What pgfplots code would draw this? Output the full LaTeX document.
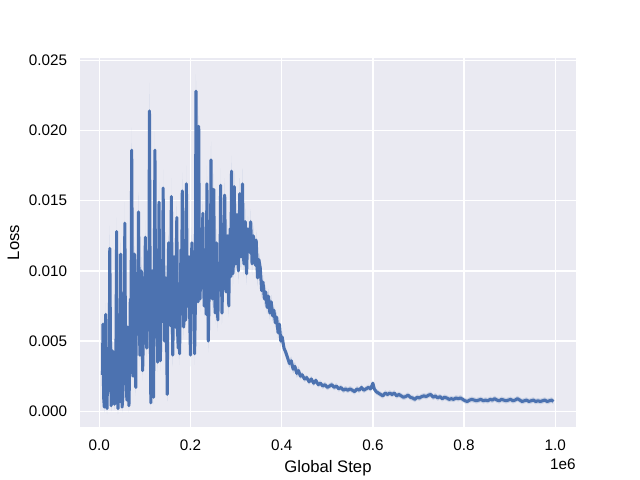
\documentclass[border=0pt]{standalone}
\usepackage{fontspec}
\setmainfont{Liberation Sans}
\usepackage{pgfplots}
\pgfplotsset{compat=1.18}
\usepackage{pgfplotstable}
\definecolor{sbblue}{RGB}{76,114,176}
\definecolor{sbbg}{RGB}{234,234,242}

% x = global step, y = loss, d = half width of the band
\pgfplotstableread{
x y d
7000 0.0026 0.0006
8000 0.0062 0.0008
9500 0.0010 0.0004
11000 0.0003 0.0004
12500 0.0045 0.0006
14000 0.0069 0.0008
15500 0.0008 0.0004
17000 0.0002 0.0004
18500 0.0038 0.0006
20000 0.0045 0.0008
21500 0.0015 0.0005
23000 0.0116 0.0016
24500 0.0050 0.0006
26000 0.0004 0.0004
27500 0.0009 0.0004
29000 0.0043 0.0007
30500 0.0032 0.0005
32000 0.0012 0.0005
33500 0.0005 0.0004
35000 0.0035 0.0006
36500 0.0041 0.0006
38000 0.0128 0.0010
39500 0.0012 0.0005
41000 0.0002 0.0004
42500 0.0048 0.0006
44000 0.0030 0.0006
45500 0.0007 0.0004
47000 0.0112 0.0010
48500 0.0036 0.0006
50000 0.0003 0.0004
51500 0.0010 0.0004
53000 0.0055 0.0008
54500 0.0025 0.0005
56000 0.0134 0.0015
57500 0.0042 0.0006
59000 0.0020 0.0006
60500 0.0008 0.0004
62000 0.0060 0.0008
63500 0.0033 0.0005
65000 0.0004 0.0005
66500 0.0030 0.0005
68000 0.0080 0.0009
69500 0.0052 0.0006
71000 0.0186 0.0016
72500 0.0091 0.0006
74000 0.0025 0.0007
75500 0.0048 0.0006
77000 0.0112 0.0012
78500 0.0067 0.0006
80000 0.0017 0.0006
81500 0.0098 0.0006
83000 0.0090 0.0010
84500 0.0055 0.0006
86000 0.0142 0.0014
87500 0.0083 0.0006
89000 0.0040 0.0008
90500 0.0061 0.0006
92000 0.0100 0.0010
93500 0.0088 0.0006
95000 0.0029 0.0007
96500 0.0050 0.0006
98000 0.0095 0.0010
99500 0.0072 0.0006
101000 0.0124 0.0012
102500 0.0066 0.0006
104000 0.0045 0.0008
105500 0.0097 0.0006
107000 0.0080 0.0009
108500 0.0058 0.0006
110000 0.0214 0.0020
111500 0.0085 0.0006
113000 0.0006 0.0005
114500 0.0049 0.0006
116000 0.0100 0.0010
117500 0.0074 0.0006
119000 0.0010 0.0005
120500 0.0092 0.0006
122000 0.0186 0.0013
123500 0.0053 0.0006
125000 0.0060 0.0008
126500 0.0089 0.0006
128000 0.0035 0.0007
129500 0.0062 0.0006
131000 0.0149 0.0014
132500 0.0078 0.0006
134000 0.0036 0.0007
135500 0.0101 0.0006
137000 0.0090 0.0010
138500 0.0064 0.0006
140000 0.0159 0.0013
141500 0.0094 0.0006
143000 0.0050 0.0008
144500 0.0071 0.0006
146000 0.0095 0.0010
147500 0.0056 0.0006
149000 0.0012 0.0005
150500 0.0087 0.0006
152000 0.0120 0.0011
153500 0.0099 0.0006
155000 0.0070 0.0008
156500 0.0061 0.0006
158000 0.0153 0.0013
159500 0.0093 0.0006
161000 0.0040 0.0008
162500 0.0068 0.0006
164000 0.0110 0.0010
165500 0.0082 0.0006
167000 0.0060 0.0008
168500 0.0104 0.0006
170000 0.0138 0.0012
171500 0.0059 0.0006
173000 0.0045 0.0008
174500 0.0090 0.0006
176000 0.0041 0.0008
177500 0.0072 0.0006
179000 0.0115 0.0010
180500 0.0086 0.0006
182000 0.0157 0.0013
183500 0.0102 0.0006
185000 0.0060 0.0008
186500 0.0076 0.0006
188000 0.0100 0.0010
189500 0.0065 0.0006
191000 0.0162 0.0013
192500 0.0095 0.0006
194000 0.0075 0.0008
195500 0.0081 0.0006
197000 0.0110 0.0010
198500 0.0063 0.0006
200000 0.0040 0.0008
201500 0.0093 0.0006
203000 0.0120 0.0011
204500 0.0084 0.0006
206000 0.0070 0.0008
207500 0.0102 0.0006
209000 0.0041 0.0008
210500 0.0072 0.0006
212000 0.0228 0.0012
213500 0.0110 0.0006
215000 0.0090 0.0009
216500 0.0078 0.0006
218000 0.0203 0.0014
219500 0.0097 0.0006
221000 0.0080 0.0009
222500 0.0106 0.0006
224000 0.0130 0.0011
225500 0.0088 0.0006
227000 0.0141 0.0012
228500 0.0099 0.0006
230000 0.0075 0.0008
231500 0.0083 0.0006
233000 0.0110 0.0010
234500 0.0069 0.0006
236000 0.0162 0.0013
237500 0.0104 0.0006
239000 0.0050 0.0008
240500 0.0078 0.0006
242000 0.0105 0.0010
243500 0.0092 0.0006
245000 0.0179 0.0013
246500 0.0111 0.0006
248000 0.0080 0.0009
249500 0.0086 0.0006
251000 0.0158 0.0012
252500 0.0097 0.0006
254000 0.0070 0.0008
255500 0.0093 0.0006
257000 0.0120 0.0010
258500 0.0079 0.0006
260000 0.0065 0.0008
261500 0.0104 0.0006
263000 0.0090 0.0009
264500 0.0087 0.0006
266000 0.0161 0.0012
267500 0.0112 0.0006
269000 0.0070 0.0008
270500 0.0091 0.0006
272000 0.0115 0.0010
273500 0.0098 0.0006
275000 0.0154 0.0012
276500 0.0110 0.0006
278000 0.0085 0.0009
279500 0.0094 0.0006
281000 0.0125 0.0010
282500 0.0102 0.0006
284000 0.0075 0.0008
285500 0.0113 0.0006
287000 0.0130 0.0010
288500 0.0096 0.0006
290000 0.0171 0.0011
291500 0.0121 0.0006
293000 0.0098 0.0009
294500 0.0108 0.0006
296000 0.0160 0.0012
297500 0.0117 0.0006
299000 0.0105 0.0009
300500 0.0124 0.0006
302000 0.0140 0.0010
303500 0.0112 0.0006
305000 0.0100 0.0009
306500 0.0119 0.0006
308000 0.0155 0.0011
309500 0.0128 0.0006
311000 0.0110 0.0009
312500 0.0116 0.0006
314000 0.0162 0.0011
315500 0.0122 0.0006
317000 0.0105 0.0009
318500 0.0118 0.0006
320000 0.0135 0.0010
321500 0.0109 0.0006
323000 0.0098 0.0008
324500 0.0116 0.0006
326000 0.0130 0.0009
327500 0.0124 0.0006
329000 0.0120 0.0008
330500 0.0113 0.0006
332000 0.0135 0.0009
333500 0.0121 0.0006
335000 0.0105 0.0008
336500 0.0117 0.0006
338000 0.0125 0.0008
339500 0.0115 0.0006
341000 0.0110 0.0007
342500 0.0104 0.0006
344000 0.0122 0.0007
345500 0.0110 0.0006
347000 0.0095 0.0006
348500 0.0101 0.0006
350000 0.0108 0.0006
353000 0.0102 0.0006
356000 0.0086 0.0005
359000 0.0092 0.0005
362000 0.0080 0.0005
365000 0.0085 0.0005
368000 0.0074 0.0005
371000 0.0082 0.0005
374000 0.0070 0.0005
377000 0.0078 0.0005
380000 0.0068 0.0004
383000 0.0072 0.0004
386000 0.0063 0.0004
389000 0.0067 0.0004
392000 0.0056 0.0004
395000 0.0062 0.0004
398000 0.0050 0.0004
401000 0.0053 0.0004
405000 0.0045 0.0003
409000 0.0042 0.0003
413000 0.0038 0.0003
417000 0.0034 0.0003
421000 0.0036 0.0003
425000 0.0030 0.0003
429000 0.0032 0.0003
433000 0.0027 0.0003
437000 0.0029 0.0003
441000 0.0025 0.0002
445000 0.0026 0.0002
450000 0.0023 0.0002
455000 0.0024 0.0002
460000 0.0021 0.0002
465000 0.0023 0.0002
470000 0.0020 0.0002
475000 0.0022 0.0002
480000 0.0019 0.0002
485000 0.0020 0.0002
490000 0.0018 0.0002
495000 0.0019 0.0002
500000 0.0017 0.0002
505000 0.0018 0.0002
510000 0.0019 0.0002
515000 0.0017 0.0002
520000 0.0018 0.0002
525000 0.0016 0.0002
530000 0.0017 0.0002
535000 0.0015 0.0002
540000 0.0016 0.0002
545000 0.0015 0.0002
550000 0.0016 0.0002
555000 0.0015 0.0002
560000 0.0014 0.0002
565000 0.0016 0.0002
570000 0.0015 0.0002
575000 0.0017 0.0002
580000 0.0015 0.0002
585000 0.0016 0.0002
590000 0.0017 0.0002
595000 0.0016 0.0002
600000 0.0020 0.0002
603000 0.0016 0.0002
607000 0.0014 0.0002
612000 0.0013 0.0002
617000 0.0012 0.0002
622000 0.0011 0.0002
627000 0.0013 0.0002
632000 0.0012 0.0002
637000 0.0013 0.0002
642000 0.0012 0.0002
647000 0.0013 0.0002
652000 0.0011 0.0002
657000 0.0012 0.0002
662000 0.0011 0.0002
667000 0.0010 0.0002
672000 0.00105 0.0002
677000 0.00115 0.0002
682000 0.0010 0.0002
687000 0.00095 0.0002
692000 0.00085 0.0002
697000 0.0010 0.0002
702000 0.00095 0.0002
707000 0.00105 0.0002
712000 0.0011 0.0002
717000 0.00105 0.0002
722000 0.00115 0.0002
727000 0.0012 0.0002
732000 0.0010 0.0002
737000 0.0011 0.0002
742000 0.00095 0.0002
747000 0.00105 0.0002
752000 0.0009 0.0002
757000 0.0010 0.0002
762000 0.00095 0.0002
767000 0.00085 0.0002
772000 0.0009 0.0002
777000 0.00085 0.0002
782000 0.00095 0.0002
787000 0.0009 0.0002
792000 0.00095 0.0002
797000 0.00085 0.0002
802000 0.00075 0.0002
807000 0.0007 0.0002
812000 0.0008 0.0002
817000 0.00085 0.0002
822000 0.0008 0.0002
827000 0.00075 0.0002
832000 0.0008 0.0002
837000 0.00085 0.0002
842000 0.00075 0.0002
847000 0.0008 0.0002
852000 0.00075 0.0002
857000 0.00085 0.0002
862000 0.0008 0.0002
867000 0.0009 0.0002
872000 0.0008 0.0002
877000 0.00075 0.0002
882000 0.00085 0.0002
887000 0.0008 0.0002
892000 0.00075 0.0002
897000 0.0008 0.0002
902000 0.00085 0.0002
907000 0.00075 0.0002
912000 0.0008 0.0002
917000 0.0009 0.0002
922000 0.0008 0.0002
927000 0.0007 0.0002
932000 0.00075 0.0002
937000 0.0008 0.0002
942000 0.0007 0.0002
947000 0.00075 0.0002
952000 0.0008 0.0002
957000 0.0007 0.0002
962000 0.00075 0.0002
967000 0.0007 0.0002
972000 0.00075 0.0002
977000 0.0008 0.0002
982000 0.0007 0.0002
987000 0.00075 0.0002
992000 0.0008 0.0002
996000 0.0007 0.0002
}\losstable

\begin{document}
\begin{tikzpicture}
\begin{axis}[
    name=main,
    at={(0,0)}, anchor=south west,
    scale only axis,
    width=357.12bp, height=266.112bp,
    xmin=-42325, xmax=1045390,
    ymin=-0.001132, ymax=0.025192,
    axis background/.style={fill=sbbg},
    axis line style={draw=none},
    major tick length=0pt,
    grid=major,
    major grid style={white, line width=1bp},
    xtick={0,200000,400000,600000,800000,1000000},
    xticklabels={0.0,0.2,0.4,0.6,0.8,1.0},
    ytick={0,0.005,0.010,0.015,0.020,0.025},
    yticklabels={0.000,0.005,0.010,0.015,0.020,0.025},
    scaled x ticks=false,
    scaled y ticks=false,
    xticklabel style={anchor=north, yshift=-5.8bp},
    yticklabel style={anchor=east, xshift=-5.8bp},
    tick label style={font=\fontsize{11bp}{13bp}\selectfont},
    xlabel={Global Step},
    ylabel={Loss},
    xlabel style={at={(axis description cs:0.5,-0.0893)}, anchor=north, inner sep=0pt, font=\fontsize{12bp}{14bp}\selectfont},
    ylabel style={at={(axis description cs:-0.134,0.5)}, anchor=center, inner sep=0pt, font=\fontsize{12bp}{14bp}\selectfont},
    extra description/.code={
        \node[anchor=north east, inner sep=0pt, font=\fontsize{11bp}{13bp}\selectfont]
            at (axis description cs:1,-0.0855) {1e6};
    },
]
\addplot[draw=none, stack plots=y, forget plot] table[x=x, y expr=\thisrow{y}-\thisrow{d}] {\losstable};
\addplot[fill=sbblue, fill opacity=0.2, draw=none, stack plots=y, forget plot] table[x=x, y expr=2*\thisrow{d}] {\losstable} \closedcycle;
\addplot[sbblue, line width=2.2bp, line join=round, mark=none, stack plots=false] table[x=x, y=y] {\losstable};
\end{axis}
\path (main.south west) ++(-57.6bp,-38.016bp) coordinate (bbsw);
\path (main.north east) ++(46.08bp,41.472bp) coordinate (bbne);
\pgfresetboundingbox
\path[use as bounding box] (bbsw) rectangle (bbne);
\end{tikzpicture}
\end{document}
